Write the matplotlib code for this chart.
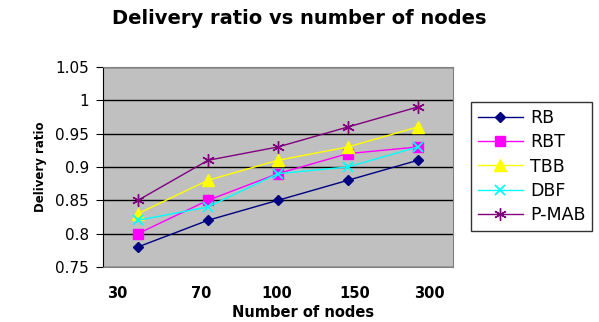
import matplotlib
matplotlib.use('Agg')
import matplotlib.pyplot as plt

plt.rcParams['font.family'] = ['DejaVu Sans']

# Data
nodes = ['30', '70', '100', '150', '300']
rb = [0.78, 0.82, 0.85, 0.88, 0.91]
rbt = [0.80, 0.85, 0.89, 0.92, 0.93]
tbb = [0.83, 0.88, 0.91, 0.93, 0.96]
dbf = [0.82, 0.84, 0.89, 0.90, 0.93]
pmab = [0.85, 0.91, 0.93, 0.96, 0.99]
y_ticks = [0.75, 0.8, 0.85, 0.9, 0.95, 1.0, 1.05]
y_labels = ['0.75', '0.8', '0.85', '0.9', '0.95', '1', '1.05']

fig = plt.figure(figsize=(5.99, 3.22), dpi=100)
ax = fig.add_axes([0.172, 0.171, 0.584, 0.621])
ax.set_facecolor('#C0C0C0')

x = range(len(nodes))
ax.plot(x, rb, color='#000080', marker='D', markersize=5.5, lw=1, label='RB')
ax.plot(x, rbt, color='#FF00FF', marker='s', markersize=6.5, lw=1, label='RBT')
ax.plot(x, tbb, color='#FFFF00', marker='^', markersize=8, lw=1, label='TBB')
ax.plot(x, dbf, color='#00FFFF', marker='x', markersize=7, mew=1.3, lw=1, label='DBF')
ax.plot(x, pmab, color='#800080', marker=(6, 2, 0), markersize=9, mew=1, lw=1, label='P-MAB')

ax.set_xlim(-0.5, len(nodes) - 0.5)
ax.set_ylim(0.75, 1.05)
ax.set_yticks(y_ticks)
ax.set_yticklabels(y_labels, fontsize=11)
ax.yaxis.grid(True, color='black', lw=1)
ax.set_axisbelow(True)

# Excel placed the category labels slightly off the points
ax.set_xticks([-0.29, 0.91, 1.98, 3.1, 4.16])
ax.set_xticklabels(nodes, fontsize=10.5, fontweight='bold')
ax.tick_params(axis='x', length=0, pad=14)
ax.tick_params(axis='y', length=5, direction='out', pad=5)

for side in ['top', 'right', 'bottom']:
    ax.spines[side].set_color('#808080')
ax.spines['left'].set_color('black')

fig.text(0.5, 0.944, 'Delivery ratio vs number of nodes', ha='center',
         va='center', fontsize=14, fontweight='bold')
fig.text(0.506, 0.03, 'Number of nodes', ha='center', va='center',
         fontsize=10.5, fontweight='bold')
ax.set_ylabel('Delivery ratio', fontsize=8.5, fontweight='bold', labelpad=6)

leg = fig.legend(loc='upper left', bbox_to_anchor=(0.786, 0.683), fontsize=12.5,
                 frameon=True, fancybox=False, edgecolor='black',
                 handlelength=2.6, handletextpad=0.4, labelspacing=0.36,
                 borderpad=0.4, borderaxespad=0)
leg.get_frame().set_linewidth(1)

fig.savefig('out.png', dpi=100)
